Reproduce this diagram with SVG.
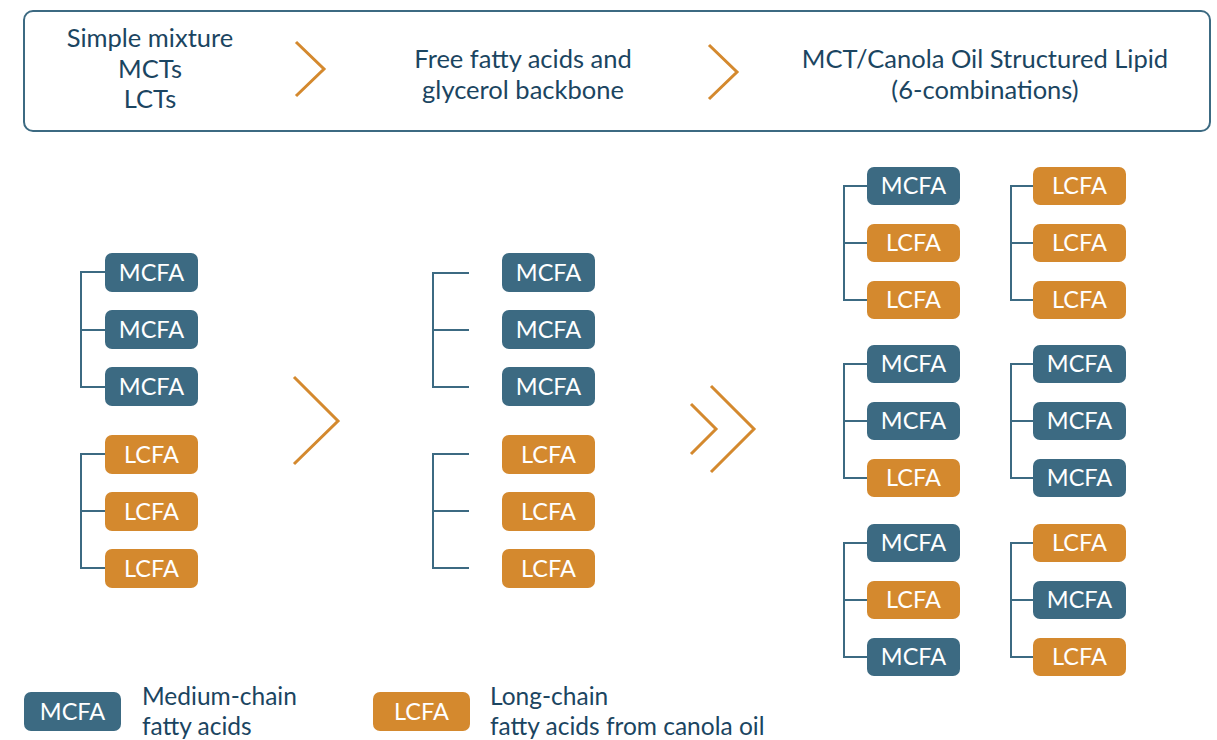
<svg xmlns="http://www.w3.org/2000/svg" width="1217" height="740" viewBox="0 0 1217 740">
<defs>
<style>
.hdr{font-family:Lato,"Liberation Sans",sans-serif;font-size:25.5px;fill:#1b4561;text-anchor:middle}
.leg{font-family:Lato,"Liberation Sans",sans-serif;font-size:24.5px;fill:#1b4561}
.m rect{fill:#3c6a82}
.l rect{fill:#d4892e}
.n text{font-family:Lato,"Liberation Sans",sans-serif;font-size:23.5px;fill:#ffffff;text-anchor:middle}
.br{fill:none;stroke:#3c6a82;stroke-width:2}
.chev{fill:none;stroke:#d4892e;stroke-width:3}
</style>
</defs>
<rect x="24" y="11" width="1186" height="120" rx="9" fill="#ffffff" stroke="#3c6a82" stroke-width="2"/>
<g id="header1"><text class="hdr" x="150" y="47">Simple mixture</text><text class="hdr" x="150" y="78">MCTs</text><text class="hdr" x="150" y="108">LCTs</text></g>
<g id="header2"><text class="hdr" x="523" y="68">Free fatty acids and</text><text class="hdr" x="523" y="99">glycerol backbone</text></g>
<g id="header3"><text class="hdr" x="985" y="68">MCT/Canola Oil Structured Lipid</text><text class="hdr" x="985" y="99">(6-combinations)</text></g>
<g id="chevrons">
<polyline class="chev" points="296,42 324,69 296,96"/>
<polyline class="chev" points="709,45 737,72 709,99"/>
<polyline class="chev" points="294,377 338,421 294,464"/>
<polyline class="chev" points="691,404 716,429 691,454"/>
<polyline class="chev" points="711,386 754,429 711,472"/>
</g>
<g id="connectors">
<path class="br" d="M105,272H81V387H105M81,330H105"/>
<path class="br" d="M105,454H81V568H105M81,511H105"/>
<path class="br" d="M469,273H433V387H469M433,330H469"/>
<path class="br" d="M469,454H433V568H469M433,511H469"/>
<path class="br" d="M867,186H844V300H867M844,243H867"/>
<path class="br" d="M867,364H844V478H867M844,421H867"/>
<path class="br" d="M867,543H844V657H867M844,600H867"/>
<path class="br" d="M1033,186H1011V300H1033M1011,243H1033"/>
<path class="br" d="M1033,364H1011V478H1033M1011,421H1033"/>
<path class="br" d="M1033,543H1011V657H1033M1011,600H1033"/>
</g>
<g id="c1n1" class="n m"><rect x="105" y="253" width="93" height="39" rx="7"/><text x="151.5" y="281">MCFA</text></g>
<g id="c1n2" class="n m"><rect x="105" y="310" width="93" height="39" rx="7"/><text x="151.5" y="338">MCFA</text></g>
<g id="c1n3" class="n m"><rect x="105" y="367" width="93" height="39" rx="7"/><text x="151.5" y="395">MCFA</text></g>
<g id="c1n4" class="n l"><rect x="105" y="435" width="93" height="39" rx="7"/><text x="151.5" y="463">LCFA</text></g>
<g id="c1n5" class="n l"><rect x="105" y="492" width="93" height="39" rx="7"/><text x="151.5" y="520">LCFA</text></g>
<g id="c1n6" class="n l"><rect x="105" y="549" width="93" height="39" rx="7"/><text x="151.5" y="577">LCFA</text></g>
<g id="c2n1" class="n m"><rect x="502" y="253" width="93" height="39" rx="7"/><text x="548.5" y="281">MCFA</text></g>
<g id="c2n2" class="n m"><rect x="502" y="310" width="93" height="39" rx="7"/><text x="548.5" y="338">MCFA</text></g>
<g id="c2n3" class="n m"><rect x="502" y="367" width="93" height="39" rx="7"/><text x="548.5" y="395">MCFA</text></g>
<g id="c2n4" class="n l"><rect x="502" y="435" width="93" height="39" rx="7"/><text x="548.5" y="463">LCFA</text></g>
<g id="c2n5" class="n l"><rect x="502" y="492" width="93" height="39" rx="7"/><text x="548.5" y="520">LCFA</text></g>
<g id="c2n6" class="n l"><rect x="502" y="549" width="93" height="39" rx="7"/><text x="548.5" y="577">LCFA</text></g>
<g id="c3n1" class="n m"><rect x="867" y="167" width="93" height="38" rx="7"/><text x="913.5" y="194">MCFA</text></g>
<g id="c3n2" class="n l"><rect x="867" y="224" width="93" height="38" rx="7"/><text x="913.5" y="251">LCFA</text></g>
<g id="c3n3" class="n l"><rect x="867" y="281" width="93" height="38" rx="7"/><text x="913.5" y="308">LCFA</text></g>
<g id="c3n4" class="n m"><rect x="867" y="345" width="93" height="38" rx="7"/><text x="913.5" y="372">MCFA</text></g>
<g id="c3n5" class="n m"><rect x="867" y="402" width="93" height="38" rx="7"/><text x="913.5" y="429">MCFA</text></g>
<g id="c3n6" class="n l"><rect x="867" y="459" width="93" height="38" rx="7"/><text x="913.5" y="486">LCFA</text></g>
<g id="c3n7" class="n m"><rect x="867" y="524" width="93" height="38" rx="7"/><text x="913.5" y="551">MCFA</text></g>
<g id="c3n8" class="n l"><rect x="867" y="581" width="93" height="38" rx="7"/><text x="913.5" y="608">LCFA</text></g>
<g id="c3n9" class="n m"><rect x="867" y="638" width="93" height="38" rx="7"/><text x="913.5" y="665">MCFA</text></g>
<g id="c4n1" class="n l"><rect x="1033" y="167" width="93" height="38" rx="7"/><text x="1079.5" y="194">LCFA</text></g>
<g id="c4n2" class="n l"><rect x="1033" y="224" width="93" height="38" rx="7"/><text x="1079.5" y="251">LCFA</text></g>
<g id="c4n3" class="n l"><rect x="1033" y="281" width="93" height="38" rx="7"/><text x="1079.5" y="308">LCFA</text></g>
<g id="c4n4" class="n m"><rect x="1033" y="345" width="93" height="38" rx="7"/><text x="1079.5" y="372">MCFA</text></g>
<g id="c4n5" class="n m"><rect x="1033" y="402" width="93" height="38" rx="7"/><text x="1079.5" y="429">MCFA</text></g>
<g id="c4n6" class="n m"><rect x="1033" y="459" width="93" height="38" rx="7"/><text x="1079.5" y="486">MCFA</text></g>
<g id="c4n7" class="n l"><rect x="1033" y="524" width="93" height="38" rx="7"/><text x="1079.5" y="551">LCFA</text></g>
<g id="c4n8" class="n m"><rect x="1033" y="581" width="93" height="38" rx="7"/><text x="1079.5" y="608">MCFA</text></g>
<g id="c4n9" class="n l"><rect x="1033" y="638" width="93" height="38" rx="7"/><text x="1079.5" y="665">LCFA</text></g>
<g id="legend-mcfa" class="n m"><rect x="24" y="692" width="97" height="39" rx="7"/><text x="72.5" y="720">MCFA</text></g>
<g id="legend-mcfa-text"><text class="leg" x="142" y="705">Medium-chain</text><text class="leg" x="142" y="735">fatty acids</text></g>
<g id="legend-lcfa" class="n l"><rect x="373" y="692" width="97" height="39" rx="7"/><text x="421.5" y="720">LCFA</text></g>
<g id="legend-lcfa-text"><text class="leg" x="490" y="705">Long-chain</text><text class="leg" x="490" y="735">fatty acids from canola oil</text></g>
</svg>
